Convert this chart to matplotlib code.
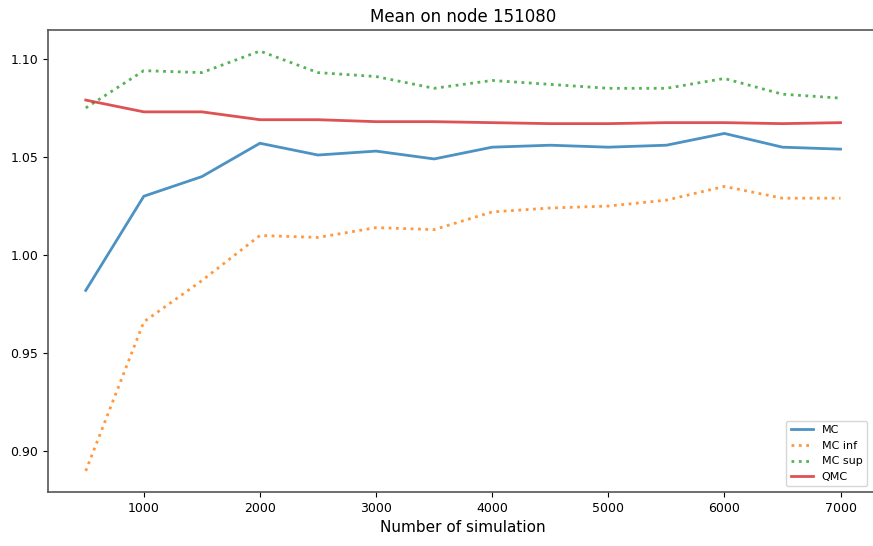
import numpy as np
import matplotlib
matplotlib.use("Agg")
import matplotlib.pyplot as plt

n_sim = [500, 1000, 1500, 2000, 2500, 3000, 3500, 4000, 4500, 5000, 5500, 6000, 6500, 7000]

mc = [0.982, 1.030, 1.040, 1.057, 1.051, 1.053, 1.049, 1.055, 1.056, 1.055, 1.056, 1.062, 1.055, 1.054]
mc_inf = [0.890, 0.966, 0.987, 1.010, 1.009, 1.014, 1.013, 1.022, 1.024, 1.025, 1.028, 1.035, 1.029, 1.029]
mc_sup = [1.075, 1.094, 1.093, 1.104, 1.093, 1.091, 1.085, 1.089, 1.087, 1.085, 1.085, 1.090, 1.082, 1.080]
qmc = [1.079, 1.073, 1.073, 1.069, 1.069, 1.068, 1.068, 1.0675, 1.067, 1.067, 1.0675, 1.0675, 1.067, 1.0675]


def main():
    fig = plt.figure(figsize=(8.73, 5.46), dpi=100)
    # the right edge of the frame runs off the picture in the original
    ax = fig.add_axes([0.055, 0.099, 0.951, 0.846])

    ax.plot(n_sim, mc, color="tab:blue", lw=2, alpha=0.8, label="MC")
    ax.plot(n_sim, mc_inf, color="tab:orange", lw=2, ls=":", alpha=0.8, label="MC inf")
    ax.plot(n_sim, mc_sup, color="tab:green", lw=2, ls=":", alpha=0.8, label="MC sup")
    ax.plot(n_sim, qmc, color="tab:red", lw=2, alpha=0.8, label="QMC")

    ax.set_title("Mean on node 151080", fontsize=12)
    ax.set_xlabel("Number of simulation", fontsize=11)
    ax.set_yticks([0.90, 0.95, 1.00, 1.05, 1.10])
    ax.tick_params(labelsize=9)
    for s in ax.spines.values():
        s.set_color("#555555")
        s.set_linewidth(1.2)
    ax.spines["right"].set_visible(False)
    ax.legend(loc="lower right", fontsize=8, bbox_to_anchor=(0.993, 0.0))

    fig.savefig("out.png")


if __name__ == "__main__":
    main()
